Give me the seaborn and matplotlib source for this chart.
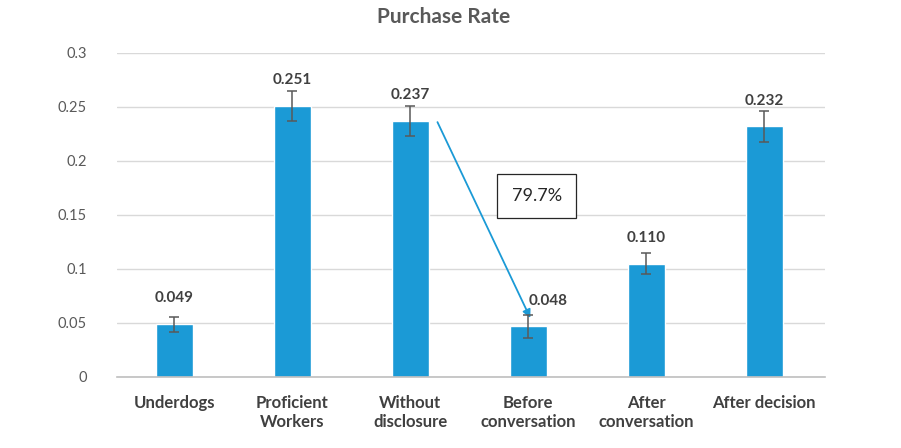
import matplotlib
matplotlib.use("Agg")
import matplotlib.pyplot as plt
import seaborn as sns
import pandas as pd
import numpy as np

categories = ["Underdogs", "Proficient\nWorkers", "Without\ndisclosure",
              "Before\nconversation", "After\nconversation", "After decision"]
rates = [0.049, 0.251, 0.237, 0.047, 0.105, 0.232]
errors = [0.007, 0.014, 0.014, 0.0105, 0.0097, 0.014]
value_labels = ["0.049", "0.251", "0.237", "0.048", "0.110", "0.232"]
y_ticks = [0, 0.05, 0.1, 0.15, 0.2, 0.25, 0.3]
y_tick_labels = ["0", "0.05", "0.1", "0.15", "0.2", "0.25", "0.3"]
drop_label = "79.7%"

sns.set_theme(style="white")
plt.rcParams['font.family'] = ['Lato', 'DejaVu Sans']

df = pd.DataFrame({"cat": categories, "rate": rates})

fig = plt.figure(figsize=(9.01, 4.48), dpi=100)
ax = fig.add_axes([0.13, 0.1585, 0.7857, 0.7232])

blue = "#1b9ad6"
sns.barplot(data=df, x="cat", y="rate", color=blue, width=0.31,
            saturation=1, errorbar=None, ax=ax)
x = np.arange(len(categories))
ax.errorbar(x, rates, yerr=errors, fmt="none", ecolor="#595959",
            elinewidth=1.1, capsize=3.5, capthick=1.1, zorder=4)

ax.set_ylim(0, 0.3)
ax.set_xlim(-0.485, 5.515)
ax.set_yticks(y_ticks)
ax.set_yticklabels(y_tick_labels, fontsize=10.5, color="#595959")
ax.yaxis.grid(True, color="#d9d9d9", linewidth=1)
ax.set_axisbelow(True)
for s in ["top", "right", "left"]:
    ax.spines[s].set_visible(False)
ax.spines["bottom"].set_color("#bfbfbf")
ax.spines["bottom"].set_linewidth(1.2)
ax.tick_params(axis="y", length=0, pad=22)
ax.tick_params(axis="x", length=0, pad=13)
for lbl in ax.get_xticklabels():
    lbl.set_fontsize(12)
    lbl.set_fontweight("bold")
    lbl.set_color("#404040")
    lbl.set_linespacing(1.25)
ax.set_xlabel("")
ax.set_ylabel("")

x_offsets = [0, 0, 0, 14, 0, 0]
for i, (v, t) in enumerate(zip(rates, value_labels)):
    ax.annotate(t, (i, v), xytext=(x_offsets[i], 18.5), textcoords="offset points",
                ha="center", va="center", fontsize=11, fontweight="bold",
                color="#404040")

ax.annotate("", xy=(3.017, 0.0546), xytext=(2.23, 0.236),
            arrowprops=dict(arrowstyle="-|>", color=blue, lw=1.3,
                            mutation_scale=12, shrinkA=0, shrinkB=0))
ax.text(3.07, 0.1676, drop_label, ha="center", va="center", fontsize=13,
        color="#262626",
        bbox=dict(boxstyle="square,pad=0.8", facecolor="white",
                  edgecolor="#262626", linewidth=0.9))

fig.text(0.4925, 0.962, "Purchase Rate", ha="center", va="center",
         fontsize=15, fontweight="bold", color="#595959")

fig.savefig("out.png", dpi=100, facecolor="white")
